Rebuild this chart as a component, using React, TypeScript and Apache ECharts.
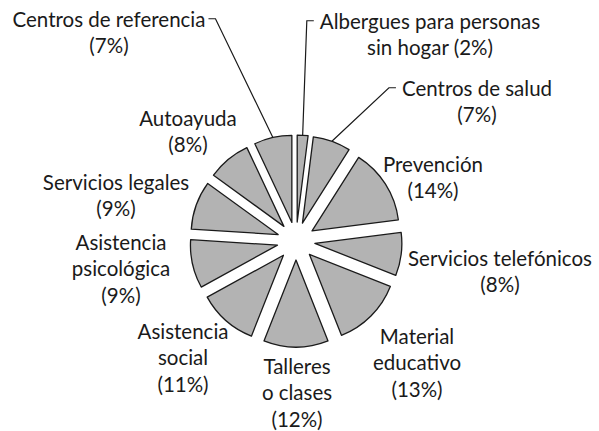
import React, { useEffect, useRef } from "react";
import * as echarts from "echarts";

const CATEGORIES = [
  "Albergues para personas\nsin hogar",
  "Centros de salud",
  "Prevención",
  "Servicios telefónicos",
  "Material\neducativo",
  "Talleres\no clases",
  "Asistencia\nsocial",
  "Asistencia\npsicológica",
  "Servicios legales",
  "Autoayuda",
  "Centros de referencia",
];
const VALUES = [2, 7, 14, 8, 13, 12, 11, 9, 9, 8, 7];
const WITH_LINE = [true, true, false, false, false, false, false, false, false, false, true];
// label block centres (layout only)
const LABEL_POS: [number, number][] = [
  [430, 34],
  [477, 101],
  [433, 177],
  [500, 271],
  [417, 362],
  [297, 392],
  [183, 357],
  [121, 268],
  [116, 195],
  [188, 131],
  [109, 32],
];

const CX = 296;
const CY = 241;
const R = 87;
const OFFSET = 19;
const FONT = "Lato";
const FS = 20.5;
const LH = 26.5;
const INK = "#1a1a1a";
const FILL = "#b3b3b3";

export default function App() {
  const ref = useRef<HTMLDivElement>(null);
  useEffect(() => {
    if (!ref.current) return;
    const chart = echarts.init(ref.current, undefined, { renderer: "svg" });
    const sliceData = CATEGORIES.map((name, i) => ({ name, value: VALUES[i], selected: true }));
    const labelData = CATEGORIES.map((name, i) => ({
      name,
      value: VALUES[i],
      labelLine: { show: WITH_LINE[i] },
    }));
    chart.setOption({
      animation: false,
      backgroundColor: "#ffffff",
      series: [
        {
          type: "pie",
          center: [CX, CY],
          radius: R,
          startAngle: 90,
          clockwise: true,
          selectedMode: "multiple",
          selectedOffset: OFFSET,
          silent: true,
          label: { show: false },
          labelLine: { show: false },
          itemStyle: { color: FILL, borderColor: INK, borderWidth: 1.3 },
          select: { itemStyle: { color: FILL, borderColor: INK, borderWidth: 1.3 } },
          emphasis: { disabled: true },
          data: sliceData,
        },
        {
          type: "pie",
          center: [CX, CY],
          radius: R + OFFSET,
          startAngle: 90,
          clockwise: true,
          silent: true,
          avoidLabelOverlap: false,
          itemStyle: { color: "rgba(0,0,0,0)", borderWidth: 0 },
          emphasis: { disabled: true },
          label: {
            show: true,
            position: "outside",
            formatter: (p: any) =>
              p.name + (p.name.endsWith("hogar") ? " " : "\n") + "(" + p.value + "%)",
            fontFamily: FONT,
            fontSize: FS,
            lineHeight: LH,
            color: INK,
            align: "center",
          },
          labelLine: { show: true, lineStyle: { color: INK, width: 1.2 } },
          labelLayout: (p: any) => {
            const i = p.dataIndex;
            const [x, y] = LABEL_POS[i];
            const w = p.labelRect.width;
            const h = p.labelRect.height;
            const out: any = { x, y, align: "center", verticalAlign: "middle" };
            if (WITH_LINE[i] && p.labelLinePoints) {
              const start = p.labelLinePoints[0];
              const lineY = y - h / 2 + LH / 2;
              if (x < start[0]) {
                const right = x + w / 2;
                out.labelLinePoints = [start, [right + 10, lineY], [right + 3, lineY]];
              } else {
                const left = x - w / 2;
                out.labelLinePoints = [start, [left - 13, lineY], [left - 6, lineY]];
              }
            }
            return out;
          },
          data: labelData,
        },
      ],
    });
    return () => chart.dispose();
  }, []);
  return (
    <div
      ref={ref}
      style={{ position: "fixed", left: 0, top: 0, width: 599, height: 431 }}
    />
  );
}
